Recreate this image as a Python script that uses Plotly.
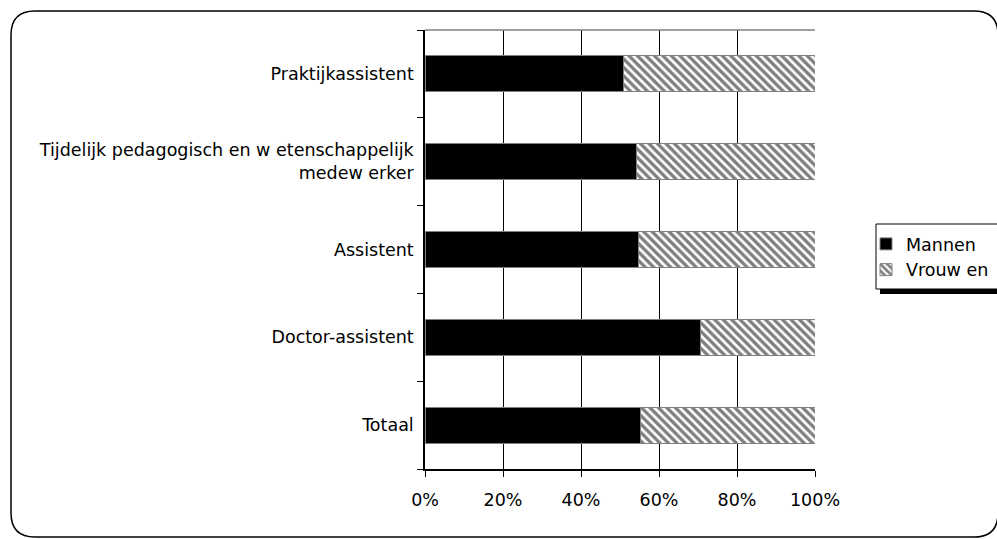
import plotly.graph_objects as go

# Categories listed bottom to top (as they stack on the vertical axis)
categories = [
    "Totaal",
    "Doctor-assistent",
    "Assistent",
    "Tijdelijk pedagogisch en w etenschappelijk<br>medew erker",
    "Praktijkassistent",
]
mannen = [55.2, 70.7, 54.7, 54.2, 50.8]
vrouwen = [round(100 - m, 1) for m in mannen]
x_ticks = [0, 20, 40, 60, 80, 100]
x_tick_labels = ["0%", "20%", "40%", "60%", "80%", "100%"]

W, H = 997, 539
L, R, T, B = 425, 815, 30, 469  # plot area in pixels


def px(x):
    return (x - L) / (R - L)


def py(y):
    return (B - y) / (B - T)


FONT = "DejaVu Sans, Arial, sans-serif"
FS = 17.5

fig = go.Figure()
fig.add_trace(go.Bar(
    y=categories, x=mannen, orientation="h", name="Mannen",
    marker=dict(color="black", line=dict(color="#808080", width=1)),
))
fig.add_trace(go.Bar(
    y=categories, x=vrouwen, orientation="h", name="Vrouw en",
    marker=dict(
        color="white",
        line=dict(color="#808080", width=1),
        pattern=dict(shape="\\", fgcolor="black", bgcolor="white",
                     size=6, solidity=0.55),
    ),
))

shapes = []
# rounded outer frame (right side runs just past the page edge)
x0, y0, x1, y1, r = 11, 11, 998, 537, 24
path = (
    f"M {px(x0 + r)} {py(y0)} L {px(x1 - r)} {py(y0)} "
    f"Q {px(x1)} {py(y0)} {px(x1)} {py(y0 + r)} "
    f"L {px(x1)} {py(y1 - r)} Q {px(x1)} {py(y1)} {px(x1 - r)} {py(y1)} "
    f"L {px(x0 + r)} {py(y1)} Q {px(x0)} {py(y1)} {px(x0)} {py(y1 - r)} "
    f"L {px(x0)} {py(y0 + r)} Q {px(x0)} {py(y0)} {px(x0 + r)} {py(y0)} Z"
)
shapes.append(dict(type="path", xref="paper", yref="paper", path=path,
                   line=dict(color="black", width=1.5), layer="below"))
# plot-area top edge
shapes.append(dict(type="line", xref="paper", yref="paper",
                   x0=0, x1=1, y0=1, y1=1,
                   line=dict(color="#808080", width=1.5)))
# legend shadow and box
lx0, ly0, lx1, ly1 = 876, 224, 999, 289
shapes.append(dict(type="rect", xref="paper", yref="paper",
                   x0=px(lx0 + 4), x1=px(lx1 + 5), y0=py(ly0 + 5), y1=py(ly1 + 5),
                   fillcolor="black", line=dict(width=0), layer="below"))
shapes.append(dict(type="rect", xref="paper", yref="paper",
                   x0=px(lx0), x1=px(lx1), y0=py(ly0), y1=py(ly1),
                   fillcolor="white", line=dict(color="black", width=1), layer="below"))

fig.update_layout(
    width=W, height=H,
    margin=dict(l=L, r=W - R, t=T, b=H - B, autoexpand=False),
    paper_bgcolor="white", plot_bgcolor="white",
    barmode="stack", bargap=0.59,
    font=dict(family=FONT, size=FS, color="black"),
    showlegend=True,
    legend=dict(
        x=px(866), y=py(226), xanchor="left", yanchor="top",
        bgcolor="rgba(0,0,0,0)", borderwidth=0,
        font=dict(size=FS), traceorder="normal", tracegroupgap=0,
    ),
    xaxis=dict(
        range=[0, 100], tickvals=x_ticks, ticktext=x_tick_labels,
        showgrid=True, gridcolor="black", gridwidth=1,
        showline=True, linecolor="black", linewidth=1.5,
        ticks="outside", ticklen=6, tickcolor="black",
        zeroline=False, fixedrange=True,
        tickfont=dict(size=FS), ticklabelstandoff=8,
    ),
    yaxis=dict(
        type="category", tickson="boundaries",
        showline=True, linecolor="black", linewidth=1.5,
        ticks="outside", ticklen=6, tickcolor="black",
        showgrid=False, fixedrange=True,
        tickfont=dict(size=FS), ticklabelstandoff=6,
    ),
    shapes=shapes,
)

fig.write_html("out.html")
